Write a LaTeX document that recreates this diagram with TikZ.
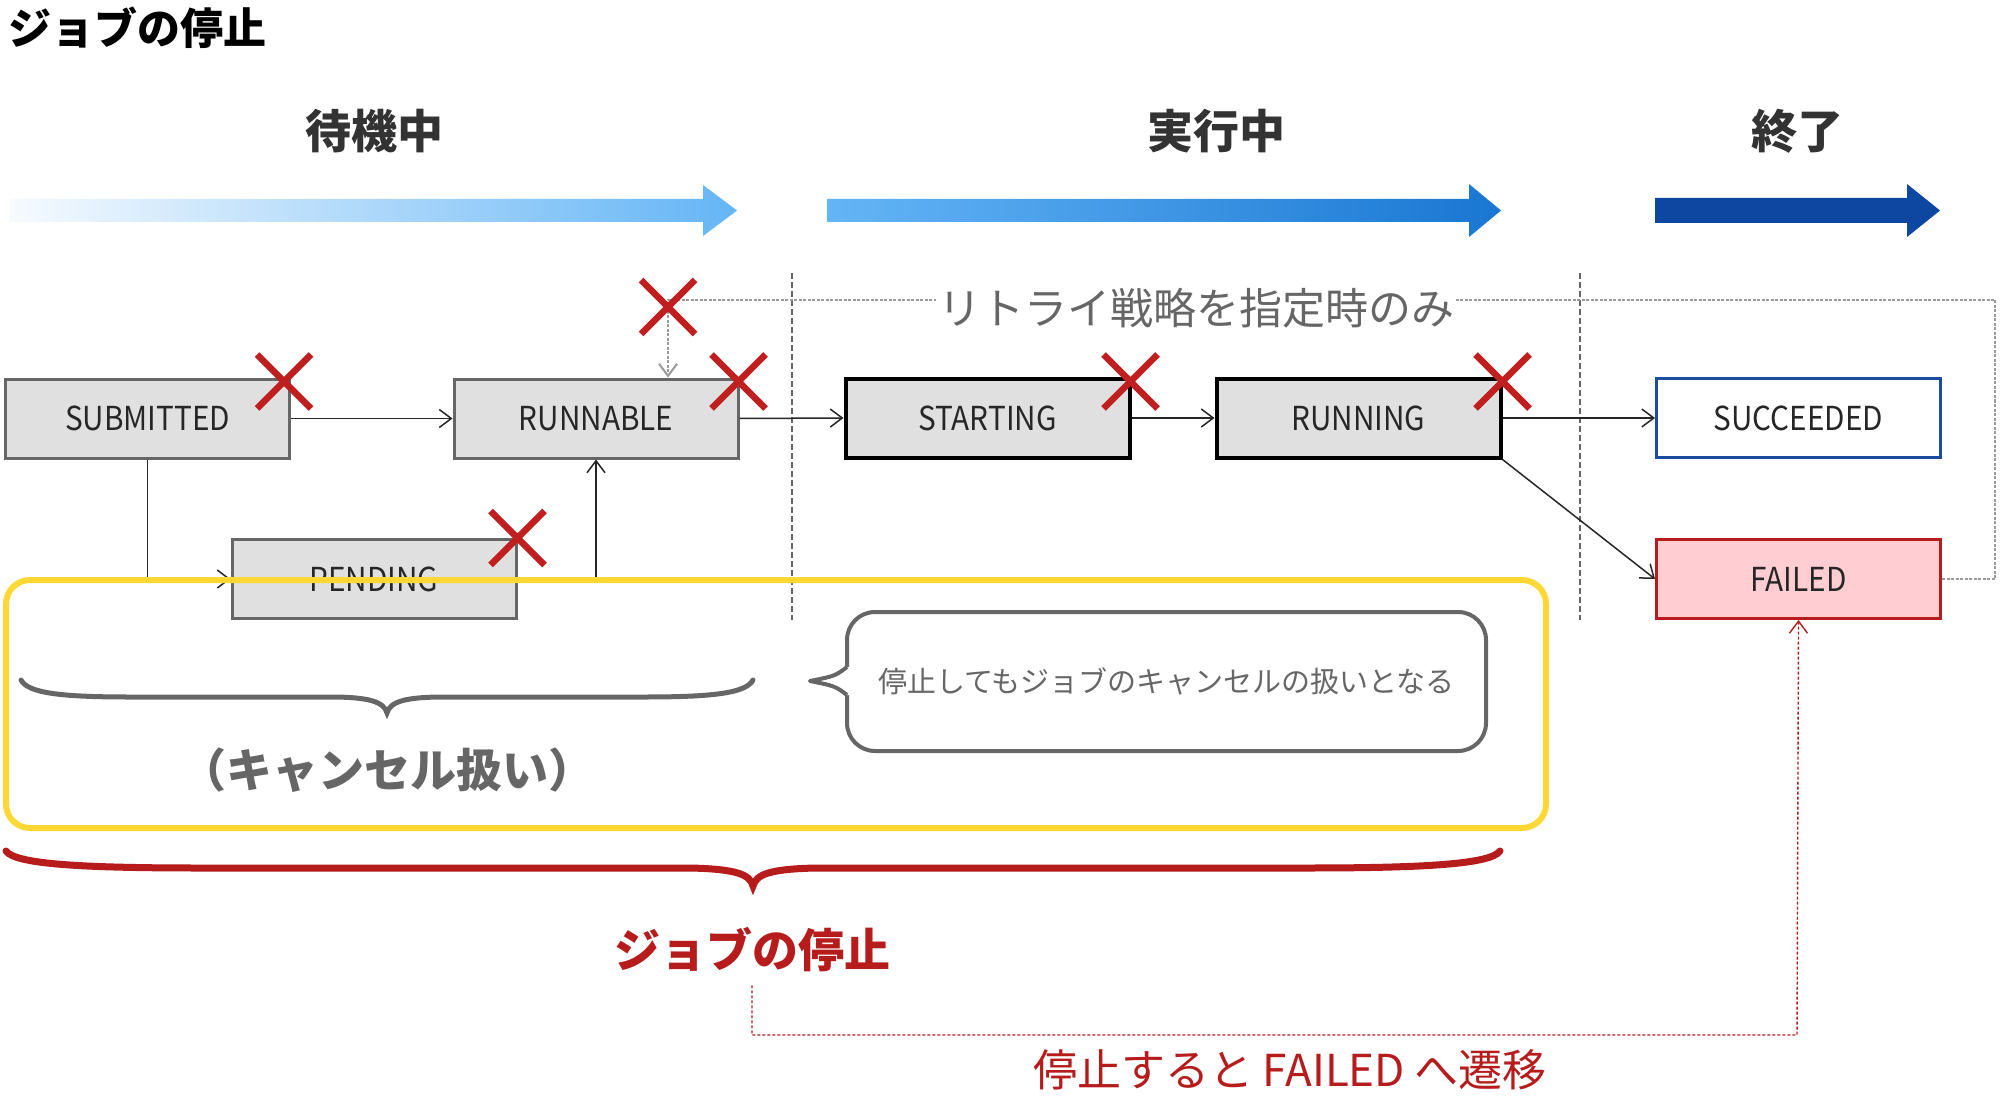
\documentclass[tikz,border=0pt]{standalone}
\usepackage{fontspec}
\setmainfont{Noto Sans CJK JP}
\newfontfamily\boxfont[FakeStretch=0.9]{Noto Sans CJK JP}
\usetikzlibrary{arrows.meta}
\definecolor{g66}{HTML}{666666}
\definecolor{g33}{HTML}{333333}
\definecolor{boxgray}{HTML}{E0E0E0}
\definecolor{xred}{HTML}{C01F1F}
\definecolor{ylw}{HTML}{FDD835}
\definecolor{blueb}{HTML}{1A4DA0}
\definecolor{redb}{HTML}{B71C1C}
\definecolor{pinkf}{HTML}{FFCDD2}
\definecolor{sky}{HTML}{64B5F6}
\definecolor{skyfade}{HTML}{F6FAFE}
\definecolor{midblue}{HTML}{1976D2}
\definecolor{navy}{HTML}{0D47A1}
\definecolor{dashg}{HTML}{9A9A9A}
\tikzset{
  stbox/.style={rectangle, draw=g66, fill=boxgray, line width=1.5pt, minimum width=142pt, minimum height=39.5pt, inner sep=0pt, text=black!85, font=\boxfont\fontsize{16.5pt}{19pt}\selectfont},
  runbox/.style={stbox, draw=black, line width=2pt},
  stagelbl/.style={inner sep=0pt, text=g33, font=\bfseries\fontsize{23pt}{26pt}\selectfont},
  conn/.style={draw=black!85, line width=0.75pt, -{Straight Barb[length=6pt,width=9pt]}},
  retryline/.style={draw=dashg, line width=1pt, dash pattern=on 1.5pt off 0.75pt, -{Straight Barb[length=6pt,width=9pt]}},
  sepline/.style={draw=g66, line width=0.6pt, dash pattern=on 3pt off 1.5pt},
  reddash/.style={draw=redb, line width=0.7pt, dash pattern=on 1.5pt off 1pt, -{Straight Barb[length=6pt,width=9pt]}},
  xline/.style={draw=xred, line width=3.3pt},
  redx/.pic={\draw[xline] (-27,-27) -- (27,27) (-27,27) -- (27,-27);}
}
\begin{document}
\begin{tikzpicture}[x=0.5pt,y=-0.5pt]
\useasboundingbox (0,0) rectangle (2000,1101);
\fill[white] (0,0) rectangle (2000,1101);

% title
\node[anchor=west, inner sep=0pt, font=\bfseries\fontsize{21.5pt}{24pt}\selectfont] (title) at (8,28) {ジョブの停止};

% stage arrows
\shade[left color=skyfade, right color=sky] (10,199) -- (703,199) -- (703,185) -- (737,210.5) -- (703,236) -- (703,222) -- (10,222) -- cycle;
\shade[left color=sky, right color=midblue] (827,199) -- (1469,199) -- (1469,184) -- (1501,210.5) -- (1469,237) -- (1469,222) -- (827,222) -- cycle;
\fill[navy] (1655,198) -- (1907,198) -- (1907,184) -- (1940,210.5) -- (1907,237) -- (1907,223) -- (1655,223) -- cycle;
\node[stagelbl] (lwait) at (374,131) {待機中};
\node[stagelbl] (lrun) at (1216,131) {実行中};
\node[stagelbl] (lend) at (1797,131) {終了};

% separators
\coordinate (s1t) at (792,273); \coordinate (s1b) at (792,620);
\coordinate (s2t) at (1580,273); \coordinate (s2b) at (1580,620);
\draw[sepline] (s1t) -- (s1b);
\draw[sepline] (s2t) -- (s2b);

% state nodes
\node[stbox] (sub) at (147.5,418.5) {SUBMITTED};
\node[stbox] (runnable) at (596,418.5) {RUNNABLE};
\node[stbox] (pend) at (374,579) {PENDING};
\node[runbox] (start) at (987.5,418) {STARTING};
\node[runbox] (running) at (1358.5,418) {RUNNING};
\node[stbox, draw=blueb, fill=white] (succ) at (1798.5,418) {SUCCEEDED};
\node[stbox, draw=redb, fill=pinkf] (fail) at (1798.5,579) {FAILED};

% retry path
\coordinate (rtR) at (1995,300);
\coordinate (rtL) at (668,300);
\draw[retryline] (fail.east) -| (rtR) -- (rtL) -- (rtL |- runnable.north);
\node[fill=white, inner xsep=1pt, inner ysep=2pt, text=g66, font=\fontsize{21.5pt}{24pt}\selectfont] (retrylbl) at (1196,308) {リトライ戦略を指定時のみ};

% connectors
\draw[conn] (sub.east) -- (runnable.west);
\draw[conn] (sub.south) |- (pend.west);
\draw[conn] (pend.east) -| (runnable.south);
\draw[conn] (runnable.east) -- (start.west);
\draw[conn] (start.east) -- (running.west);
\draw[conn] (running.east) -- (succ.west);
\draw[conn] (running.south east) -- (fail.west);

% red crosses
\pic at ([shift={(-7,4)}]sub.north east) {redx};
\pic at ([shift={(-1,4)}]runnable.north east) {redx};
\pic at ([shift={(0,0)}]pend.north east) {redx};
\pic at ([shift={(-1,5)}]start.north east) {redx};
\pic at ([shift={(0,5)}]running.north east) {redx};
\pic at ([shift={(0,7)}]rtL) {redx};

% yellow frame
\draw[ylw, line width=3pt, rounded corners=12pt] (6,580) rectangle (1546,828);

% speech bubble
\node[draw=g66, line width=2pt, fill=white, rounded corners=14pt, minimum width=319.5pt, minimum height=69.5pt, inner sep=0pt, text=g66, font=\fontsize{14.5pt}{17pt}\selectfont] (bub) at (1166.5,681.5) {停止してもジョブのキャンセルの扱いとなる};
\coordinate (tailtip) at (810,681);
\fill[white] (851,667) -- (847,667) .. controls (835,676) .. (tailtip) .. controls (835,686) .. (847,695) -- (851,695) -- cycle;
\draw[g66, line width=2pt, line join=round] (847,667) .. controls (835,676) .. (tailtip) .. controls (835,686) .. (847,695);

% gray brace
\draw[g66, line width=2.5pt, line cap=round] (21,680) .. controls (28,693) and (60,697) .. (130,697) -- (330,697) .. controls (370,697) and (384,702) .. (387,713) .. controls (390,702) and (404,697) .. (444,697) -- (644,697) .. controls (714,697) and (746,693) .. (753,680);
\node[text=g66, inner sep=0pt, font=\bfseries\fontsize{23pt}{26pt}\selectfont] (cancel) at (387,770) {（キャンセル扱い）};

% red brace
\draw[redb, line width=3.5pt, line cap=round] (6,851) .. controls (15,864) and (80,868) .. (200,868) -- (690,868) .. controls (735,869) and (750,874) .. (753,886) .. controls (756,874) and (771,869) .. (816,868) -- (1306,868) .. controls (1426,868) and (1491,864) .. (1500,851);
\node[text=redb, font=\bfseries\fontsize{23pt}{26pt}\selectfont] (stoplbl) at (752,950) {ジョブの停止};

% red dashed to FAILED
\coordinate (rdc) at (1797,1035);
\draw[reddash] ([yshift=-3pt]stoplbl.south) |- (rdc) -- (fail.south);
\node[text=redb, inner sep=0pt, font=\fontsize{22pt}{25pt}\selectfont] (tofail) at (1290,1070) {停止すると FAILED へ遷移};
\end{tikzpicture}
\end{document}
